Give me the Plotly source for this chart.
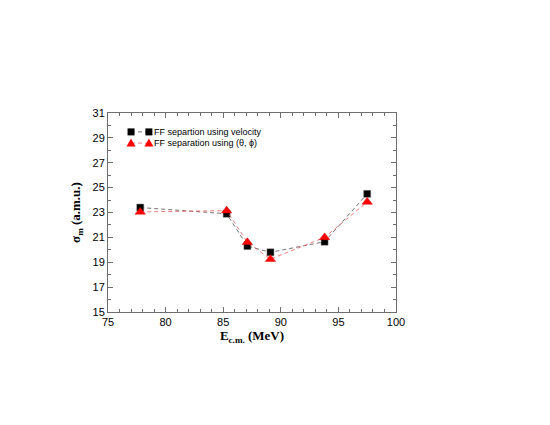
import plotly.graph_objects as go

# energies (MeV) and mass widths (a.m.u.)
e_cm = [77.8, 85.3, 87.1, 89.1, 93.8, 97.5]
sigma_vel = [23.4, 22.9, 20.3, 19.8, 20.65, 24.5]
sigma_ang = [23.05, 23.15, 20.6, 19.25, 21.0, 23.85]

x_ticks = [75, 80, 85, 90, 95, 100]
y_ticks = [15, 17, 19, 21, 23, 25, 27, 29, 31]

legend_names = ["FF separtion using velocity", "FF separation using (\u03b8, \u03d5)"]

fig = go.Figure()

# velocity series
fig.add_trace(go.Scatter(x=e_cm, y=sigma_vel, mode='lines+markers',
                         line=dict(color='rgb(80,80,80)', width=0.8, dash='4px,3px'),
                         marker=dict(symbol='square', size=7, color='black',
                                     line=dict(color='rgb(120,120,120)', width=0.5)),
                         showlegend=False))
# angular series
fig.add_trace(go.Scatter(x=e_cm, y=sigma_ang, mode='lines+markers',
                         line=dict(color='rgb(245,90,90)', width=0.8, dash='4px,3px'),
                         marker=dict(symbol='triangle-up', size=9, color='red',
                                     line=dict(color='rgb(220,0,0)', width=0.5)),
                         showlegend=False))

# hand-drawn legend (markers at both ends of a dashed line)
shapes = []
annotations = []
rows = [(0.905, 'rgb(80,80,80)', 'black', 'sq'), (0.849, 'rgb(245,90,90)', 'red', 'tri')]
for (yy, lc, mc, kind), name in zip(rows, legend_names):
    shapes.append(dict(type='line', xref='paper', yref='paper', x0=0.080, x1=0.142,
                       y0=yy, y1=yy, line=dict(color=lc, width=0.8, dash='4px,3px')))
    for xx in (0.080, 0.142):
        if kind == 'sq':
            shapes.append(dict(type='rect', xref='paper', yref='paper',
                               xsizemode='pixel', ysizemode='pixel',
                               xanchor=xx, yanchor=yy, x0=-3.5, x1=3.5, y0=-3.5, y1=3.5,
                               fillcolor=mc, line=dict(width=0)))
        else:
            shapes.append(dict(type='path', xref='paper', yref='paper',
                               xsizemode='pixel', ysizemode='pixel',
                               xanchor=xx, yanchor=yy,
                               path='M -4.5 -3.5 L 4.5 -3.5 L 0 4.5 Z',
                               fillcolor=mc, line=dict(width=0)))
    annotations.append(dict(text=name, xref='paper', yref='paper', x=0.153, y=yy,
                            xanchor='left', yanchor='middle', showarrow=False,
                            font=dict(family='Liberation Sans, Arial', size=9, color='black')))

axis_common = dict(showline=True, linecolor='rgb(110,110,110)', linewidth=1, mirror='ticks',
                   ticks='inside', ticklen=5, tickcolor='rgb(110,110,110)',
                   showgrid=False, zeroline=False,
                   tickfont=dict(family='Liberation Sans, Arial', size=11, color='black'))

fig.update_xaxes(range=[75, 100], tickvals=x_ticks,
                 minor=dict(dtick=1, ticks='inside', ticklen=3, tickcolor='rgb(110,110,110)'),
                 title=dict(text='<b>E<sub>c.m.</sub> (MeV)</b>', standoff=3,
                            font=dict(family='Liberation Serif, Times New Roman', size=13, color='black')),
                 **axis_common)
fig.update_yaxes(range=[15, 31], tickvals=y_ticks,
                 minor=dict(dtick=1, ticks='inside', ticklen=3, tickcolor='rgb(110,110,110)'),
                 title=dict(text='<b>\u03c3<sub>m</sub> (a.m.u.)</b>', standoff=8,
                            font=dict(family='Liberation Serif, Times New Roman', size=13, color='black')),
                 **axis_common)

# page body has an 8px margin, so the figure is shrunk by that much
fig.update_layout(width=542, height=417,
                  margin=dict(l=100, r=154, t=105, b=113),
                  paper_bgcolor='white', plot_bgcolor='white',
                  shapes=shapes, annotations=annotations, showlegend=False)

fig.write_html("out.html")
